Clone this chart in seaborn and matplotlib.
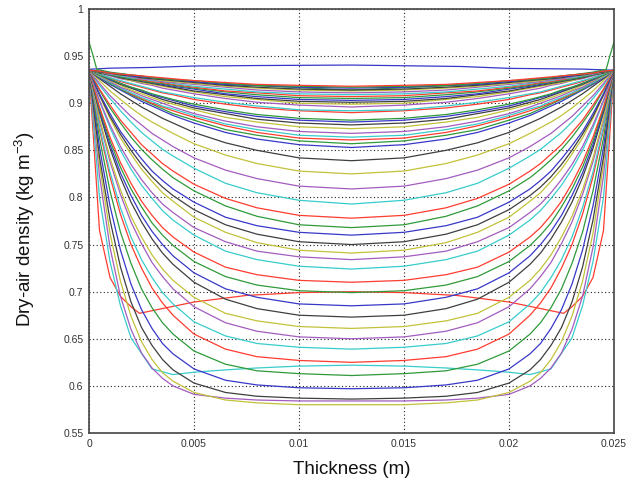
import matplotlib
matplotlib.use("Agg")
import matplotlib.pyplot as plt
import seaborn as sns
import pandas as pd

# slab geometry and the fixed density at both faces
slab_thickness = 0.025
wall_density = 0.935

# half-profile sample positions (m), face -> mid-plane
x_cols = [0.0, 0.0005, 0.001, 0.0015, 0.002, 0.0025, 0.003, 0.0035, 0.004, 0.005,
          0.0065, 0.008, 0.01, 0.0125]

# density of each regular profile at those positions (plot order, profiles 5..52)
rho_05 = [0.823, 0.835, 0.843, 0.853, 0.863, 0.872, 0.875, 0.881, 0.884, 0.890, 0.892, 0.894,
          0.896, 0.902, 0.903, 0.908, 0.909, 0.910, 0.914, 0.915, 0.919, 0.921, 0.924, 0.926,
          0.927, 0.928, 0.928, 0.928, 0.929, 0.929, 0.930, 0.930, 0.930, 0.931, 0.931, 0.932,
          0.932, 0.932, 0.933, 0.933, 0.933, 0.933, 0.933, 0.933, 0.933, 0.934, 0.934, 0.934]
rho_10 = [0.747, 0.762, 0.776, 0.791, 0.807, 0.822, 0.827, 0.838, 0.842, 0.852, 0.856, 0.860,
          0.864, 0.874, 0.877, 0.884, 0.886, 0.889, 0.895, 0.898, 0.905, 0.908, 0.913, 0.918,
          0.920, 0.921, 0.922, 0.922, 0.923, 0.924, 0.925, 0.925, 0.926, 0.927, 0.927, 0.929,
          0.930, 0.930, 0.930, 0.930, 0.931, 0.931, 0.931, 0.932, 0.932, 0.932, 0.932, 0.932]
rho_15 = [0.695, 0.711, 0.726, 0.744, 0.763, 0.782, 0.789, 0.803, 0.808, 0.821, 0.826, 0.832,
          0.837, 0.850, 0.854, 0.863, 0.867, 0.870, 0.879, 0.882, 0.892, 0.897, 0.904, 0.910,
          0.914, 0.915, 0.916, 0.916, 0.917, 0.919, 0.920, 0.921, 0.921, 0.923, 0.924, 0.926,
          0.927, 0.927, 0.928, 0.928, 0.929, 0.929, 0.930, 0.930, 0.930, 0.931, 0.931, 0.931]
rho_20 = [0.660, 0.674, 0.689, 0.708, 0.730, 0.750, 0.758, 0.774, 0.780, 0.795, 0.802, 0.809,
          0.815, 0.830, 0.835, 0.846, 0.850, 0.855, 0.864, 0.869, 0.880, 0.886, 0.895, 0.903,
          0.908, 0.909, 0.910, 0.911, 0.913, 0.914, 0.916, 0.917, 0.917, 0.920, 0.921, 0.924,
          0.924, 0.925, 0.926, 0.926, 0.927, 0.927, 0.928, 0.929, 0.929, 0.929, 0.930, 0.930]
rho_25 = [0.635, 0.647, 0.662, 0.681, 0.703, 0.725, 0.734, 0.751, 0.758, 0.774, 0.781, 0.790,
          0.796, 0.813, 0.819, 0.830, 0.835, 0.841, 0.851, 0.856, 0.869, 0.877, 0.887, 0.896,
          0.902, 0.904, 0.905, 0.906, 0.908, 0.910, 0.912, 0.913, 0.914, 0.917, 0.918, 0.921,
          0.922, 0.923, 0.924, 0.924, 0.925, 0.926, 0.926, 0.927, 0.927, 0.928, 0.929, 0.929]
rho_30 = [0.619, 0.628, 0.643, 0.661, 0.683, 0.704, 0.715, 0.731, 0.739, 0.756, 0.764, 0.773,
          0.781, 0.799, 0.805, 0.817, 0.822, 0.828, 0.840, 0.846, 0.860, 0.868, 0.880, 0.890,
          0.897, 0.899, 0.900, 0.902, 0.904, 0.906, 0.908, 0.909, 0.910, 0.914, 0.915, 0.919,
          0.920, 0.921, 0.922, 0.922, 0.923, 0.924, 0.925, 0.926, 0.926, 0.927, 0.927, 0.928]
rho_35 = [0.608, 0.614, 0.628, 0.645, 0.667, 0.688, 0.699, 0.716, 0.724, 0.741, 0.750, 0.760,
          0.768, 0.786, 0.793, 0.805, 0.811, 0.818, 0.830, 0.836, 0.851, 0.861, 0.874, 0.884,
          0.892, 0.894, 0.896, 0.897, 0.900, 0.902, 0.904, 0.906, 0.907, 0.911, 0.912, 0.916,
          0.918, 0.919, 0.920, 0.921, 0.922, 0.923, 0.923, 0.924, 0.925, 0.926, 0.926, 0.927]
rho_40 = [0.600, 0.605, 0.617, 0.634, 0.655, 0.675, 0.687, 0.703, 0.712, 0.729, 0.738, 0.749,
          0.758, 0.776, 0.784, 0.796, 0.802, 0.809, 0.821, 0.828, 0.844, 0.854, 0.868, 0.879,
          0.887, 0.889, 0.892, 0.894, 0.896, 0.899, 0.901, 0.903, 0.904, 0.909, 0.910, 0.914,
          0.916, 0.917, 0.918, 0.919, 0.920, 0.921, 0.922, 0.923, 0.924, 0.925, 0.925, 0.926]
rho_50 = [0.591, 0.593, 0.603, 0.618, 0.637, 0.655, 0.668, 0.684, 0.694, 0.710, 0.720, 0.732,
          0.742, 0.760, 0.768, 0.779, 0.787, 0.795, 0.807, 0.814, 0.831, 0.842, 0.857, 0.869,
          0.879, 0.882, 0.885, 0.887, 0.889, 0.893, 0.895, 0.897, 0.899, 0.904, 0.906, 0.910,
          0.912, 0.913, 0.915, 0.916, 0.917, 0.918, 0.920, 0.921, 0.922, 0.923, 0.924, 0.924]
rho_65 = [0.587, 0.585, 0.593, 0.606, 0.623, 0.639, 0.653, 0.667, 0.677, 0.692, 0.703, 0.716,
          0.726, 0.743, 0.753, 0.763, 0.771, 0.779, 0.791, 0.799, 0.815, 0.829, 0.845, 0.858,
          0.869, 0.872, 0.876, 0.878, 0.881, 0.885, 0.889, 0.891, 0.893, 0.899, 0.901, 0.905,
          0.907, 0.909, 0.910, 0.912, 0.913, 0.915, 0.917, 0.918, 0.919, 0.920, 0.921, 0.922]
rho_80 = [0.585, 0.582, 0.589, 0.601, 0.616, 0.631, 0.645, 0.658, 0.669, 0.682, 0.694, 0.707,
          0.718, 0.734, 0.743, 0.752, 0.761, 0.770, 0.780, 0.789, 0.805, 0.820, 0.836, 0.850,
          0.862, 0.866, 0.869, 0.872, 0.875, 0.880, 0.883, 0.886, 0.888, 0.895, 0.897, 0.901,
          0.904, 0.905, 0.907, 0.909, 0.911, 0.912, 0.914, 0.916, 0.917, 0.919, 0.919, 0.920]
rho_100 = [0.584, 0.580, 0.587, 0.598, 0.613, 0.627, 0.641, 0.652, 0.663, 0.675, 0.687, 0.701,
           0.712, 0.727, 0.737, 0.744, 0.753, 0.763, 0.771, 0.781, 0.797, 0.812, 0.828, 0.842,
           0.856, 0.860, 0.863, 0.866, 0.870, 0.875, 0.879, 0.882, 0.884, 0.892, 0.893, 0.898,
           0.900, 0.902, 0.904, 0.906, 0.908, 0.910, 0.912, 0.914, 0.915, 0.917, 0.918, 0.919]
rho_125 = [0.584, 0.580, 0.586, 0.597, 0.611, 0.625, 0.639, 0.650, 0.661, 0.673, 0.685, 0.699,
           0.710, 0.724, 0.734, 0.741, 0.750, 0.760, 0.768, 0.778, 0.793, 0.809, 0.825, 0.839,
           0.853, 0.857, 0.861, 0.864, 0.868, 0.873, 0.877, 0.880, 0.882, 0.890, 0.892, 0.896,
           0.899, 0.901, 0.903, 0.905, 0.907, 0.909, 0.911, 0.913, 0.914, 0.916, 0.917, 0.918]

# the four odd late profiles, read on their own points (green/red/cyan: left half, mirrored)
blue_x = [0.0, 0.001, 0.003, 0.005, 0.008, 0.0125, 0.0177, 0.02, 0.0235, 0.025]
blue_rho = [0.936, 0.9372, 0.938, 0.9395, 0.940, 0.9405, 0.939, 0.937, 0.9362, 0.935]
green_x = [0.0, 0.0002, 0.00037, 0.001, 0.003, 0.0065, 0.0125]
green_rho = [0.965, 0.950, 0.936, 0.933, 0.927, 0.920, 0.914]
red_x = [0.0, 0.0005, 0.001, 0.0015, 0.002, 0.0024, 0.005, 0.0075, 0.01, 0.0125]
red_rho = [0.935, 0.765, 0.715, 0.695, 0.684, 0.677, 0.689, 0.696, 0.699, 0.700]
cyan_x = [0.0, 0.0005, 0.001, 0.0015, 0.002, 0.003, 0.004, 0.005, 0.0065, 0.008, 0.01, 0.0125]
cyan_rho = [0.935, 0.800, 0.732, 0.685, 0.651, 0.618, 0.612, 0.6145, 0.617, 0.619, 0.621, 0.622]

x_ticks = [0, 0.005, 0.01, 0.015, 0.02, 0.025]
x_ticklabels = ["0", "0.005", "0.01", "0.015", "0.02", "0.025"]
y_ticks = [0.55, 0.6, 0.65, 0.7, 0.75, 0.8, 0.85, 0.9, 0.95, 1.0]
y_ticklabels = ["0.55", "0.6", "0.65", "0.7", "0.75", "0.8", "0.85", "0.9", "0.95", "1"]

cycle = ["#3838c8", "#2f9a3a", "#ff3c30", "#38cccc", "#a35cbf", "#c2c23a", "#3f3f3f"]


def mirror(xs, ys):
    # profiles are symmetric about the mid-plane
    full_x = list(xs) + [slab_thickness - x for x in reversed(xs[:-1])]
    full_y = list(ys) + list(reversed(ys[:-1]))
    return full_x, full_y


curves = []
curves.append((blue_x, blue_rho))
curves.append(mirror(green_x, green_rho))
curves.append(mirror(red_x, red_rho))
curves.append(mirror(cyan_x, cyan_rho))
profile_cols = [rho_05, rho_10, rho_15, rho_20, rho_25, rho_30, rho_35, rho_40,
                rho_50, rho_65, rho_80, rho_100, rho_125]
for k in range(len(rho_125)):
    half = [wall_density] + [col[k] for col in profile_cols]
    curves.append(mirror(x_cols, half))

frames = []
for i, (xs, ys) in enumerate(curves):
    frames.append(pd.DataFrame({"thickness": xs, "density": ys, "curve": i}))
df = pd.concat(frames, ignore_index=True)

order = list(range(len(curves)))
palette = {i: cycle[i % len(cycle)] for i in order}

sns.set_style("white")
plt.rcParams["font.family"] = ["Liberation Sans", "DejaVu Sans"]
plt.rcParams["mathtext.default"] = "regular"

fig = plt.figure(figsize=(6.39, 4.84), dpi=100)
ax = fig.add_axes([89 / 639, 1 - 433 / 484, 525 / 639, 424 / 484])

sns.lineplot(data=df, x="thickness", y="density", hue="curve", hue_order=order,
             palette=palette, estimator=None, sort=False, linewidth=0.9,
             legend=False, ax=ax)

ax.set_xlim(0, slab_thickness)
ax.set_ylim(0.55, 1.0)
ax.set_xticks(x_ticks)
ax.set_xticklabels(x_ticklabels)
ax.set_yticks(y_ticks)
ax.set_yticklabels(y_ticklabels)
tick_font = ["Liberation Sans Narrow", "Liberation Sans", "DejaVu Sans"]
for lab in ax.get_xticklabels() + ax.get_yticklabels():
    lab.set_family(tick_font)
    lab.set_fontsize(7.5)
    lab.set_color("#222222")
ax.tick_params(axis="both", direction="in", length=3, width=0.8, pad=4, colors="#333333")

ax.grid(True, color="#222222", linestyle=(0, (1, 2.2)), linewidth=0.8)
ax.set_axisbelow(True)
for side in ["left", "right", "top", "bottom"]:
    ax.spines[side].set_color("#444444")
    ax.spines[side].set_linewidth(1.2)

ax.set_xlabel("Thickness (m)", fontsize=13.5, color="#111111")
ax.set_ylabel("Dry-air density (kg m$^{-3}$)", fontsize=13.5, color="#111111")
ax.xaxis.set_label_coords(0.5, -0.066)
ax.yaxis.set_label_coords(-0.100, 0.481)

fig.savefig("out.png", dpi=100)
